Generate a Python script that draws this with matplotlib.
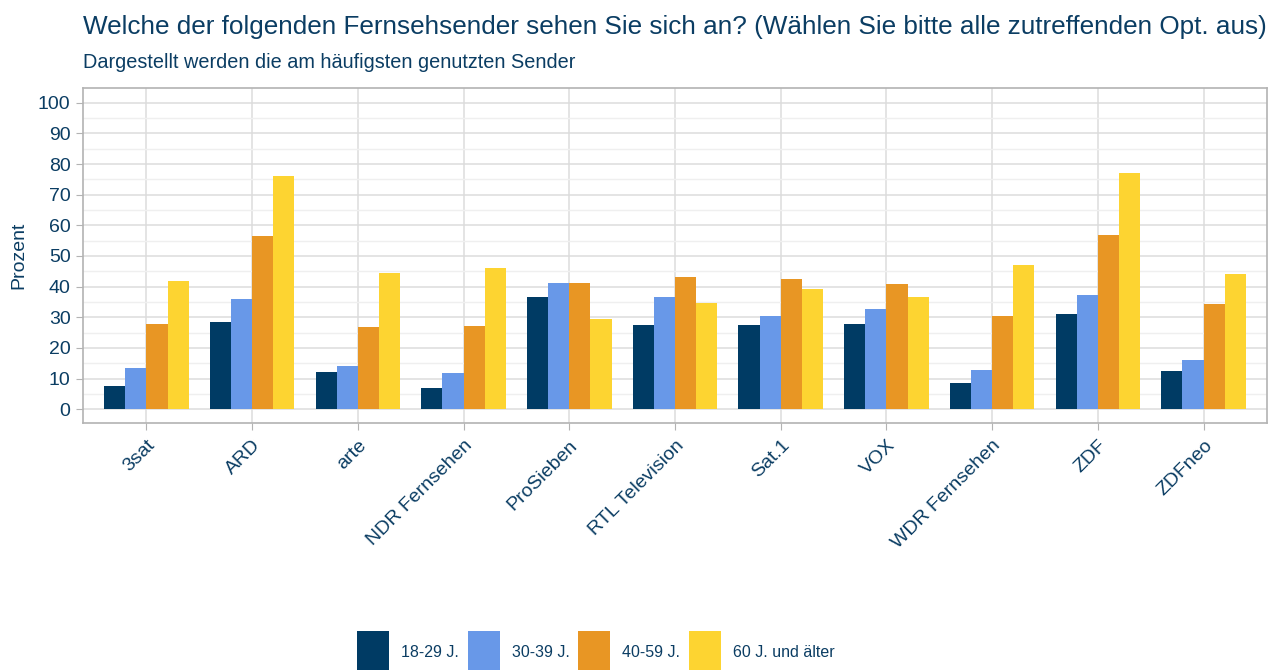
import numpy as np
import matplotlib.pyplot as plt
import matplotlib.transforms as mtrans
from matplotlib.patches import Patch

plt.rcParams['font.family'] = ['Liberation Sans', 'DejaVu Sans']

# ── Data ──
sender = ["3sat", "ARD", "arte", "NDR Fernsehen", "ProSieben", "RTL Television",
          "Sat.1", "VOX", "WDR Fernsehen", "ZDF", "ZDFneo"]
gruppen = ["18-29 J.", "30-39 J.", "40-59 J.", "60 J. und älter"]
werte_18_29 = [7.6, 28.4, 12.1, 7.0, 36.5, 27.4, 27.4, 27.9, 8.6, 31.0, 12.5]
werte_30_39 = [13.5, 35.9, 14.1, 11.8, 41.1, 36.6, 30.5, 32.6, 12.8, 37.3, 16.0]
werte_40_59 = [27.8, 56.5, 26.8, 27.1, 41.3, 43.2, 42.4, 40.7, 30.5, 56.8, 34.2]
werte_60 = [41.7, 76.2, 44.5, 46.0, 29.5, 34.7, 39.2, 36.6, 47.1, 77.1, 44.2]

colors = ["#003b64", "#6898e8", "#e89624", "#fdd431"]
text_col = "#0b3d63"

W, H = 1279, 670
fig = plt.figure(figsize=(W / 100, H / 100), dpi=100)
ax = fig.add_axes([83 / W, 1 - 423 / H, (1267 - 83) / W, (423 - 88) / H])

x = np.arange(len(sender))
width = 0.2
series = [werte_18_29, werte_30_39, werte_40_59, werte_60]
for i, (vals, c) in enumerate(zip(series, colors)):
    ax.bar(x + (i - 1.5) * width, vals, width, color=c, zorder=3)

ax.set_xlim(-0.6, len(sender) - 0.4)
ax.set_ylim(-4.5, 104.8)
ax.set_yticks(np.arange(0, 101, 10))
ax.set_yticks(np.arange(5, 101, 10), minor=True)
ax.set_xticks(x)
ax.set_xticklabels(sender, rotation=45, ha='right', rotation_mode='anchor')
offset = mtrans.ScaledTranslation(6 / 100, -4 / 100, fig.dpi_scale_trans)
for lab in ax.get_xticklabels():
    lab.set_transform(lab.get_transform() + offset)

ax.grid(True, which='major', color='#dcdcdc', lw=1.1, zorder=0)
ax.grid(True, which='minor', axis='y', color='#efefef', lw=1.0, zorder=0)
ax.set_axisbelow(True)
for s in ax.spines.values():
    s.set_color('#b3b3b3')
    s.set_linewidth(1.2)
ax.tick_params(axis='both', which='major', colors='#b3b3b3', length=5,
               labelcolor=text_col, labelsize=14)
ax.tick_params(axis='y', which='minor', length=0)
ax.tick_params(axis='y', pad=4)
ax.tick_params(axis='x', pad=5)
ax.set_ylabel("Prozent", color=text_col, fontsize=14)
# x in figure pixels, y centred on the axes
ax.yaxis.set_label_coords(27 / W, 0.5,
                          transform=mtrans.blended_transform_factory(fig.transFigure, ax.transAxes))

fig.text(83 / W, 1 - 27 / H,
         "Welche der folgenden Fernsehsender sehen Sie sich an? (Wählen Sie bitte alle zutreffenden Opt. aus)",
         color=text_col, fontsize=18.8, va='center', ha='left')
fig.text(83 / W, 1 - 62 / H, "Dargestellt werden die am häufigsten genutzten Sender",
         color=text_col, fontsize=14.3, va='center', ha='left')

handles = [Patch(facecolor=c, edgecolor='none', label=l) for c, l in zip(colors, gruppen)]
leg = fig.legend(handles=handles, loc='center', bbox_to_anchor=(596 / W, 1 - 653 / H), ncol=4,
                 frameon=False, fontsize=11.5, handlelength=2.0, handleheight=3.95,
                 columnspacing=0.55, handletextpad=0.75, borderpad=0, borderaxespad=0)
for t in leg.get_texts():
    t.set_color(text_col)

fig.savefig("out.png", dpi=100)
